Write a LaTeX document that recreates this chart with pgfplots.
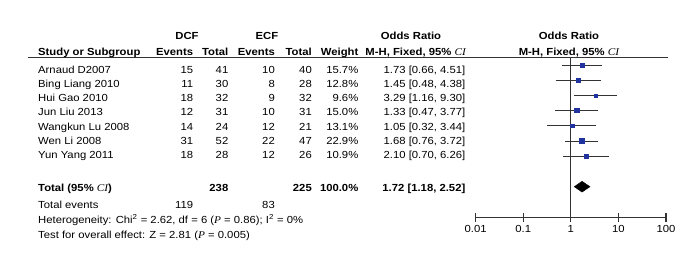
\documentclass[border=0pt]{standalone}
\usepackage{fontspec}
\setmainfont{Liberation Sans}[FakeStretch=1.1]
\newfontfamily\ser{Liberation Serif}[FakeStretch=1.1]
\usepackage{pgfplots}
\pgfplotsset{compat=1.18}
\definecolor{sqblue}{rgb}{0.13,0.2,0.62}
\definecolor{lncol}{gray}{0.2}
\newcommand{\CI}{{\ser\mdseries\itshape CI}}
\newcommand{\Pv}{{\ser\itshape P}}
\newcommand{\cols}[7]{%
  \node[anchor=base west] at (38,#1) {#2};
  \node[anchor=base east] at (193.3,#1) {#3};
  \node[anchor=base east] at (228.5,#1) {#4};
  \node[anchor=base east] at (275,#1) {#5};
  \node[anchor=base east] at (312,#1) {#6};
  \node[anchor=base east] at (358.5,#1) {#7};
}
\begin{document}
\fontsize{10.3}{12}\selectfont
\begin{tikzpicture}
\useasboundingbox (0,0) rectangle (691bp,-260bp);
\begin{axis}[at={(475.7bp,-217.7bp)}, anchor=south west, scale only axis,
  width=190.3bp, height=160.2bp, xmode=log, xmin=0.01, xmax=100,
  ymin=-217.7, ymax=-57.5, axis x line*=bottom, hide y axis,
  axis line style={-, lncol, line width=1bp},
  xtick={0.01,0.1,1,10,100}, xticklabels={0.01,0.1,1,10,100},
  xminorticks=false, xmajorticks=true, xtick align=center, major tick length=9bp,
  xtick style={draw=lncol, line width=1bp},
  xticklabel style={font=\fontsize{10.3}{12}\selectfont},
  clip=false]
\addplot[lncol, line width=1bp] coordinates {(1,-57.5) (1,-217.7)};
% axis tick marks
\addplot[lncol, line width=1.2bp, only marks, mark=|, mark size=4.5] coordinates {(0.01,-217.7) (0.1,-217.7) (1,-217.7) (10,-217.7) (100,-217.7)};
% confidence intervals
\addplot[lncol, line width=1bp] coordinates {(0.66,-65) (4.51,-65)};
\addplot[lncol, line width=1bp] coordinates {(0.48,-80) (4.38,-80)};
\addplot[lncol, line width=1bp] coordinates {(1.16,-95.7) (9.30,-95.7)};
\addplot[lncol, line width=1bp] coordinates {(0.47,-110.5) (3.77,-110.5)};
\addplot[lncol, line width=1bp] coordinates {(0.32,-125.7) (3.44,-125.7)};
\addplot[lncol, line width=1bp] coordinates {(0.76,-141) (3.72,-141)};
\addplot[lncol, line width=1bp] coordinates {(0.70,-156) (6.26,-156)};
% point estimates (size by weight)
\addplot[only marks, mark=square*, sqblue, mark size=2.2] coordinates {(1.73,-65)};
\addplot[only marks, mark=square*, sqblue, mark size=1.9] coordinates {(1.45,-80)};
\addplot[only marks, mark=square*, sqblue, mark size=1.7] coordinates {(3.29,-95.7)};
\addplot[only marks, mark=square*, sqblue, mark size=2.1] coordinates {(1.33,-110.5)};
\addplot[only marks, mark=square*, sqblue, mark size=1.9] coordinates {(1.05,-125.7)};
\addplot[only marks, mark=square*, sqblue, mark size=2.6] coordinates {(1.68,-141)};
\addplot[only marks, mark=square*, sqblue, mark size=1.8] coordinates {(2.10,-156)};
% pooled diamond
\addplot[fill=black, draw=black] coordinates {(1.18,-186.7) (1.72,-181.3) (2.52,-186.7) (1.72,-192.1)} -- cycle;
\end{axis}
\begin{scope}[x=1bp, y=-1bp, every node/.style={inner sep=0pt}]
\draw[lncol, line width=1.3bp] (28,57.5) -- (668,57.5);
% header row 1
\node[anchor=base, font=\bfseries] at (187,39.7) {DCF};
\node[anchor=base, font=\bfseries] at (267,39.7) {ECF};
\node[anchor=base, font=\bfseries] at (411,39.7) {Odds Ratio};
\node[anchor=base, font=\bfseries] at (569,39.7) {Odds Ratio};
% header row 2
\begin{scope}[every node/.append style={font=\bfseries}]
\cols{55.2}{Study or Subgroup}{Events}{Total}{Events}{Total}{Weight}
\node[anchor=base east] at (466,55.2) {M-H, Fixed, 95\% \CI};
\node[anchor=base] at (569,55.2) {M-H, Fixed, 95\% \CI};
\end{scope}
% data rows
\cols{73.0}{Arnaud D2007}{15}{41}{10}{40}{15.7\%}
\node[anchor=base east] at (465.5,73.0) {1.73 [0.66, 4.51]};
\cols{87.3}{Bing Liang 2010}{11}{30}{8}{28}{12.8\%}
\node[anchor=base east] at (465.5,87.3) {1.45 [0.48, 4.38]};
\cols{101.6}{Hui Gao 2010}{18}{32}{9}{32}{9.6\%}
\node[anchor=base east] at (465.5,101.6) {3.29 [1.16, 9.30]};
\cols{115.9}{Jun Liu 2013}{12}{31}{10}{31}{15.0\%}
\node[anchor=base east] at (465.5,115.9) {1.33 [0.47, 3.77]};
\cols{130.2}{Wangkun Lu 2008}{14}{24}{12}{21}{13.1\%}
\node[anchor=base east] at (465.5,130.2) {1.05 [0.32, 3.44]};
\cols{144.5}{Wen Li 2008}{31}{52}{22}{47}{22.9\%}
\node[anchor=base east] at (465.5,144.5) {1.68 [0.76, 3.72]};
\cols{158.8}{Yun Yang 2011}{18}{28}{12}{26}{10.9\%}
\node[anchor=base east] at (465.5,158.8) {2.10 [0.70, 6.26]};
% totals
\begin{scope}[every node/.append style={font=\bfseries}]
\cols{191.7}{Total (95\% \CI)}{}{238}{}{225}{100.0\%}
\node[anchor=base east] at (465.5,191.7) {1.72 [1.18, 2.52]};
\end{scope}
\node[anchor=base west] at (38,208.2) {Total events};
\node[anchor=base east] at (193.3,208.2) {119};
\node[anchor=base east] at (275,208.2) {83};
\node[anchor=base west] at (38,223.2) {Heterogeneity: Chi\textsuperscript{2} = 2.62, df = 6 (\Pv{} = 0.86); I\textsuperscript{2} = 0\%};
\node[anchor=base west] at (38,238.7) {Test for overall effect: Z = 2.81 (\Pv{} = 0.005)};
\end{scope}
\end{tikzpicture}
\end{document}
